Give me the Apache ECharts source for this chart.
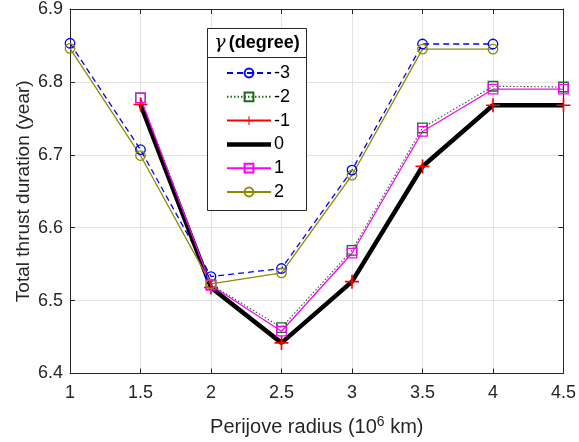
<!DOCTYPE html>
<html><head><meta charset="utf-8">
<script src="https://cdn.jsdelivr.net/npm/echarts@6/dist/echarts.min.js"></script>
<style>html,body{margin:0;padding:0;background:#fff}#c{width:579px;height:442px}</style>
</head><body><div id="c"></div>
<script>
const xVals = [1, 1.5, 2, 2.5, 3, 3.5, 4, 4.5];
const gammaNames = ['-3', '-2', '-1', '0', '1', '2'];
const sM3 = [6.853, 6.707, 6.533, 6.544, 6.679, 6.852, 6.852, null];
const sM2 = [null, 6.778, 6.522, 6.463, 6.569, 6.737, 6.794, 6.793];
const sM1 = [null, 6.769, 6.518, 6.442, 6.526, 6.684, 6.768, 6.768];
const s0  = [null, 6.769, 6.518, 6.442, 6.526, 6.684, 6.768, 6.768];
const sP1 = [null, 6.778, 6.521, 6.458, 6.565, 6.732, 6.790, 6.790];
const sP2 = [6.846, 6.699, 6.523, 6.538, 6.672, 6.845, 6.845, null];
const yTicks = [6.4, 6.5, 6.6, 6.7, 6.8, 6.9];

const TXT = '#262626';
const FONT = 'Liberation Sans, Arial, sans-serif';
function pts(arr){ return xVals.map((x,i)=>[x, arr[i]]).filter(p=>p[1]!==null); }
const plus = 'path://M4.4,0H5.6V4.4H10V5.6H5.6V10H4.4V5.6H0V4.4H4.4Z';

function ser(name, data, color, width, type, symbol, size, hollow){
  return {
    name, type:'line', data: pts(data), symbol: symbol || 'none', symbolSize: size,
    showSymbol: !!symbol,
    lineStyle:{color, width, type},
    itemStyle: hollow ? {color:'rgba(0,0,0,0)', borderColor:color, borderWidth:1.3} : {color, borderWidth:0},
    emphasis:{disabled:true}, animation:false, xAxisIndex:0, yAxisIndex:0
  };
}

const series = [
  ser(gammaNames[0], sM3, '#0000ff', 1.3, [6,4], 'circle', 9.5, true),
  ser(gammaNames[1], sM2, '#1e6b1e', 1.1, [1.5,2], 'rect', 9.5, true),
  ser(gammaNames[2], sM1, '#ff0000', 1.3, 'solid', plus, 14, false),
  ser(gammaNames[3], s0, '#000000', 4.5, 'solid', null, 0, false),
  ser(gammaNames[4], sP1, '#ff00ff', 1.3, 'solid', 'rect', 9.5, true),
  ser(gammaNames[5], sP2, '#8c8c00', 1.3, 'solid', 'circle', 9.5, true)
];

const chart = echarts.init(document.getElementById('c'), null, {renderer:'canvas'});
const axisCommon = {
  axisLine:{show:true, lineStyle:{color:TXT, width:1}},
  axisTick:{show:true, inside:true, length:5, lineStyle:{color:TXT}},
};
const legendData = gammaNames.map(n => n === '0'
  ? {name:n, icon:'path://M0,0H44V4.5H0Z'}
  : {name:n});
chart.setOption({
  animation:false,
  textStyle:{fontFamily:FONT},
  grid:{left:70, right:13, top:7, bottom:68, containLabel:false},
  xAxis:[{
    type:'value', min:1, max:4.5, interval:0.5, position:'bottom',
    ...axisCommon,
    splitLine:{show:true, lineStyle:{color:'#e3e3e3', width:1}},
    axisLabel:{color:TXT, fontSize:18, fontFamily:FONT, margin:11},
    name:'{a|Perijove radius (10}{s|6}{a| km)}', nameLocation:'middle', nameGap:42,
    nameTextStyle:{rich:{a:{fontSize:20, color:TXT, fontFamily:FONT}, s:{fontSize:14, color:TXT, fontFamily:FONT, verticalAlign:'top', padding:[0,0,9,0]}}}
  },{
    type:'value', min:1, max:4.5, interval:0.5, position:'top',
    ...axisCommon, axisLabel:{show:false}, splitLine:{show:false}
  }],
  yAxis:[{
    type:'value', min:6.4, max:6.9, interval:0.1, position:'left',
    ...axisCommon,
    splitLine:{show:true, lineStyle:{color:'#e3e3e3', width:1}},
    axisLabel:{color:TXT, fontSize:18, fontFamily:FONT, margin:7, formatter:v=>v.toFixed(1)},
    name:'Total thrust duration (year)', nameLocation:'middle', nameGap:37, nameRotate:90,
    nameMoveOverlap:false,
    nameTextStyle:{fontSize:19, color:TXT, fontFamily:FONT}
  },{
    type:'value', min:6.4, max:6.9, interval:0.1, position:'right',
    ...axisCommon, axisLabel:{show:false}, splitLine:{show:false}
  }],
  legend:{
    data: legendData, orient:'vertical', left:226, top:64, z:200, padding:0,
    itemWidth:44, itemHeight:11, itemGap:5.8, symbolKeepAspect:true,
    textStyle:{fontSize:18, color:'#000', fontFamily:FONT, padding:[0,0,0,-2]},
    selectedMode:false
  },
  graphic:[
    {type:'rect', shape:{x:207.5, y:28.5, width:99, height:182}, style:{fill:'#fff', stroke:'#262626', lineWidth:1}, z:100, silent:true},
    {type:'line', shape:{x1:207.5, y1:57.5, x2:306.5, y2:57.5}, style:{stroke:'#262626', lineWidth:1}, z:101, silent:true},
    {type:'text', x:257, y:43, z:101, silent:true,
     style:{text:'{g|γ} {b|(degree)}', align:'center', verticalAlign:'middle',
       rich:{g:{fontSize:19, fontStyle:'italic', fontFamily:'DejaVu Serif, serif', fill:'#000'}, b:{fontSize:18, fontWeight:'bold', fontFamily:FONT, fill:'#000'}}}}
  ],
  series
});
</script></body></html>
